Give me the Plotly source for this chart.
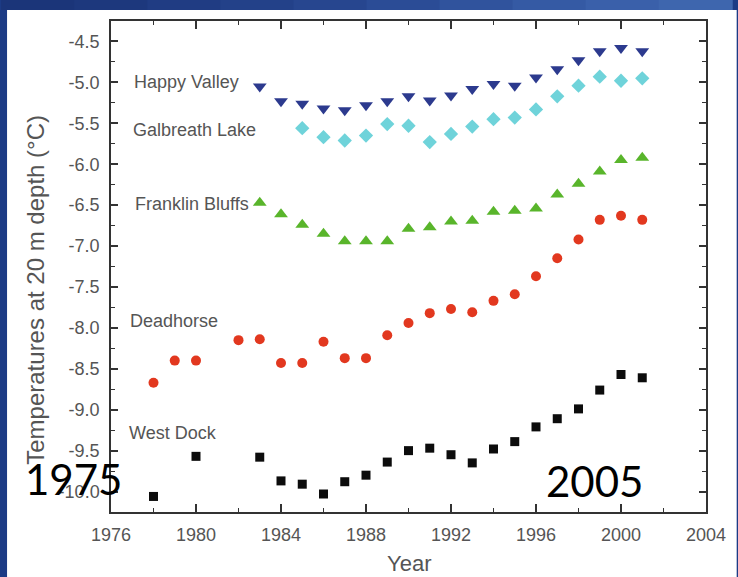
import plotly.graph_objects as go

# ---------------- data ----------------
hv_years = list(range(1983, 2002))
hv_temp = [-5.05, -5.23, -5.26, -5.32, -5.34, -5.28, -5.23, -5.17, -5.22, -5.16,
           -5.08, -5.02, -5.04, -4.94, -4.84, -4.73, -4.62, -4.58, -4.62]

gl_years = list(range(1985, 2002))
gl_temp = [-5.56, -5.67, -5.71, -5.65, -5.51, -5.53, -5.73, -5.63, -5.54, -5.45,
           -5.43, -5.33, -5.17, -5.04, -4.93, -4.98, -4.95]

fb_years = list(range(1983, 2002))
fb_temp = [-6.47, -6.61, -6.74, -6.85, -6.94, -6.94, -6.94, -6.79, -6.77, -6.70,
           -6.69, -6.58, -6.57, -6.54, -6.37, -6.24, -6.09, -5.95, -5.92]

dh_years = [1978, 1979, 1980, 1982, 1983, 1984, 1985, 1986, 1987, 1988, 1989, 1990,
            1991, 1992, 1993, 1994, 1995, 1996, 1997, 1998, 1999, 2000, 2001]
dh_temp = [-8.67, -8.40, -8.40, -8.15, -8.14, -8.43, -8.43, -8.17, -8.37, -8.37, -8.09,
           -7.94, -7.82, -7.77, -7.81, -7.67, -7.59, -7.37, -7.15, -6.92, -6.68, -6.63, -6.68]

wd_years = [1978, 1980, 1983, 1984, 1985, 1986, 1987, 1988, 1989, 1990, 1991, 1992,
            1993, 1994, 1995, 1996, 1997, 1998, 1999, 2000, 2001]
wd_temp = [-10.06, -9.57, -9.58, -9.87, -9.91, -10.03, -9.88, -9.80, -9.64, -9.50, -9.47,
           -9.55, -9.65, -9.48, -9.39, -9.21, -9.11, -8.99, -8.76, -8.57, -8.61]

site_names = ["Happy Valley", "Galbreath Lake", "Franklin Bluffs", "Deadhorse", "West Dock"]
x_tick_vals = [1976, 1980, 1984, 1988, 1992, 1996, 2000, 2004]
y_tick_vals = [-4.5, -5.0, -5.5, -6.0, -6.5, -7.0, -7.5, -8.0, -8.5, -9.0, -9.5, -10.0]
y_tick_text = ["-4.5", "-5.0", "-5.5", "-6.0", "-6.5", "-7.0", "-7.5", "-8.0",
               "-8.5", "-9.0", "-9.5", "-10.0"]
x_title = "Year"
y_title = "Temperatures at 20 m depth (°C)"
overlay_left = "1975"
overlay_right = "2005"

# ---------------- figure ----------------
W, H = 738, 577
ML, MR, MT, MB = 111, 26, 21, 65
PW, PH = W - ML - MR, H - MT - MB


def px_x(p):
    return (p - ML) / PW


def px_y(p):
    return (H - MB - p) / PH


fig = go.Figure()

series = [
    (hv_years, hv_temp, "triangle-down", "#2c3a8e", 12),
    (gl_years, gl_temp, "diamond", "#6fd3da", 11),
    (fb_years, fb_temp, "triangle-up", "#59b52b", 12),
    (dh_years, dh_temp, "circle", "#e2381f", 10),
    (wd_years, wd_temp, "square", "#0c0c0c", 9),
]
for (xs, ys, sym, col, sz), name in zip(series, site_names):
    fig.add_trace(go.Scatter(
        x=xs, y=ys, mode="markers", name=name,
        marker=dict(symbol=sym, color=col, size=sz, line=dict(width=0)),
        showlegend=False,
    ))

# label annotations (placed left of each series)
label_pos = [(1976.98, -5.0), (1976.93, -5.585), (1977.02, -6.49),
             (1976.79, -7.91), (1976.74, -9.28)]
for name, (lx, ly) in zip(site_names, label_pos):
    fig.add_annotation(x=lx, y=ly, xref="x", yref="y", text=name, showarrow=False,
                       xanchor="left", yanchor="middle",
                       font=dict(family="Liberation Sans, Arial", size=18, color="#555555"))

# axis titles
fig.add_annotation(x=0.5, y=px_y(563), xref="paper", yref="paper", text=x_title,
                   showarrow=False, xanchor="center", yanchor="middle",
                   font=dict(family="Liberation Sans, Arial", size=22, color="#555555"))
fig.add_annotation(x=px_x(35), y=px_y(290), xref="paper", yref="paper", text=y_title,
                   showarrow=False, textangle=-90, xanchor="center", yanchor="middle",
                   font=dict(family="Liberation Sans, Arial", size=24, color="#555555"))

# slide overlay texts
fig.add_annotation(x=px_x(73), y=px_y(479), xref="paper", yref="paper", text=overlay_left,
                   showarrow=False, xanchor="center", yanchor="middle",
                   font=dict(family="Lato, Carlito, sans-serif", size=42, color="#000000"))
fig.add_annotation(x=px_x(599), y=px_y(481), xref="paper", yref="paper", text=overlay_right,
                   showarrow=False, xanchor="center", yanchor="middle",
                   font=dict(family="Lato, Carlito, sans-serif", size=42, color="#000000"))

# background: white slide panel on dark blue
shapes = [dict(type="rect", xref="paper", yref="paper", layer="below",
               x0=px_x(6), x1=px_x(W + 5), y0=px_y(H + 5), y1=px_y(10),
               fillcolor="white", line=dict(width=0))]
band_cols = ["#1b3579", "#1d387d", "#203c83", "#234189", "#27468f", "#2b4c96",
             "#30539d", "#355aa4", "#3a60aa", "#3e66ae"]
n = len(band_cols)
for i, c in enumerate(band_cols):
    shapes.append(dict(type="rect", xref="paper", yref="paper", layer="below",
                       x0=px_x(W * i / n), x1=px_x(W * (i + 1) / n + 1),
                       y0=px_y(10), y1=px_y(-2), fillcolor=c, line=dict(width=0)))

axis_font = dict(family="Liberation Sans, Arial", size=18, color="#555555")
fig.update_layout(
    width=W, height=H,
    margin=dict(l=ML, r=MR, t=MT, b=MB, pad=0),
    paper_bgcolor="#1c3b85",
    plot_bgcolor="white",
    shapes=shapes,
    xaxis=dict(range=[1976, 2004], tickmode="array", tickvals=x_tick_vals,
               showgrid=False, zeroline=False, showline=True, linecolor="#333333",
               linewidth=1.5, mirror="allticks", ticks="inside", ticklen=8,
               tickwidth=1.5, tickcolor="#333333", tickfont=axis_font,
               ticklabelstandoff=6,
               minor=dict(tickmode="linear", tick0=1976, dtick=2, ticks="inside",
                          ticklen=4, tickwidth=1.2, tickcolor="#333333", showgrid=False)),
    yaxis=dict(range=[-10.25, -4.25], tickmode="array", tickvals=y_tick_vals,
               ticktext=y_tick_text,
               showgrid=False, zeroline=False, showline=True, linecolor="#333333",
               linewidth=1.5, mirror="allticks", ticks="inside", ticklen=7,
               tickwidth=1.5, tickcolor="#333333", tickfont=axis_font,
               ticklabelstandoff=6,
               minor=dict(tickmode="linear", tick0=-4.25, dtick=0.5, ticks="inside",
                          ticklen=4, tickwidth=1.2, tickcolor="#333333", showgrid=False)),
)

fig.write_html("out.html")
